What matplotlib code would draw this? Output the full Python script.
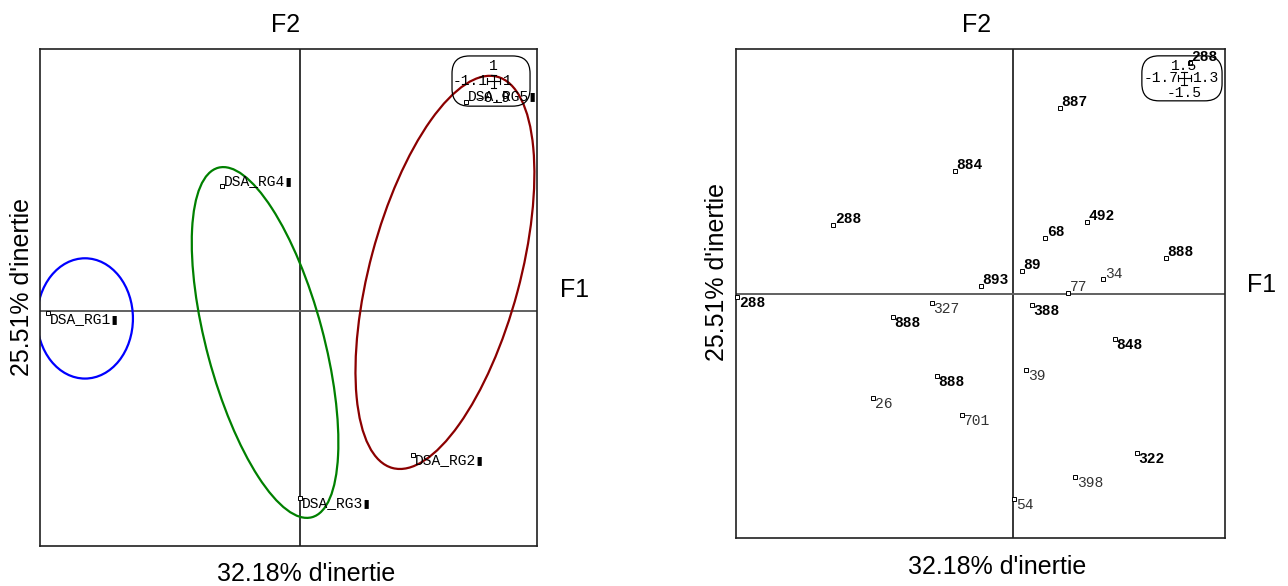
import numpy as np
import matplotlib
matplotlib.use('Agg')
import matplotlib.pyplot as plt
from matplotlib.patches import Ellipse, FancyBboxPatch

W, H = 1288, 586
mono = ['Liberation Mono', 'DejaVu Sans Mono']
sans = ['Liberation Sans', 'DejaVu Sans']

# left panel : group positions (F1, F2)
grp_names = ['DSA_RG1', 'DSA_RG4', 'DSA_RG3', 'DSA_RG2', 'DSA_RG5']
grp_x = [-1.066, -0.331, 0.0, 0.476, 0.700]
grp_y = [-0.011, 0.475, -0.716, -0.551, 0.797]
left_xlim = (-1.1, 1.0)
left_ylim = (-0.9, 1.0)

# ellipses : centre (data), width/height (axes fraction), angle
ell_cx = [-0.910, -0.149, 0.611]
ell_cy = [-0.030, -0.122, 0.146]
ell_w = [0.193, 0.235, 0.302]
ell_h = [0.242, 0.728, 0.815]
ell_ang = [0, 15, -15]
ell_col = ['#0000ff', '#008000', '#8b0000']

# right panel : individuals
ind_labels = ['288', '887', '884', '288', '492', '68', '888', '89', '34', '77',
              '893', '288', '327', '888', '388', '848', '39', '888', '26', '701',
              '322', '398', '54']
ind_x = [1.085, 0.288, -0.356, -1.105, 0.453, 0.196, 0.938, 0.055, 0.552, 0.337,
         -0.197, -1.694, -0.498, -0.737, 0.116, 0.625, 0.079, -0.467, -0.860, -0.313,
         0.760, 0.380, 0.006]
ind_y = [1.414, 1.139, 0.753, 0.422, 0.441, 0.343, 0.220, 0.141, 0.086, 0.006,
         0.049, -0.024, -0.061, -0.147, -0.073, -0.282, -0.471, -0.508, -0.643, -0.747,
         -0.980, -1.127, -1.261]
ind_overlap = [1, 1, 1, 1, 1, 1, 1, 1, 0, 0,
               1, 1, 0, 1, 1, 1, 0, 1, 0, 0,
               1, 0, 0]
right_xlim = (-1.7, 1.3)
right_ylim = (-1.5, 1.5)


def px(x, y):
    return x / W, 1 - y / H


def setup(ax, xlim, ylim):
    ax.set_xlim(*xlim)
    ax.set_ylim(*ylim)
    ax.set_xticks([])
    ax.set_yticks([])
    for s in ax.spines.values():
        s.set_linewidth(1.2)
        s.set_color('#202020')
    ax.axvline(0, color='black', lw=1.1, zorder=1)
    ax.axhline(0, color='#606060', lw=1.4, zorder=1)


def scale_box(ax, x0, x1, y0, y1, top, left, right, bottom):
    box = FancyBboxPatch((x0, y0), x1 - x0, y1 - y0, transform=ax.transAxes,
                         boxstyle='round,pad=0,rounding_size=0.035',
                         fc='none', ec='black', lw=0.9, zorder=4)
    ax.add_patch(box)
    cx = (x0 + x1) / 2 + 0.005
    cy = (y0 + y1) / 2
    kw = dict(transform=ax.transAxes, family=mono, fontsize=10.5, zorder=5)
    ax.text(cx, y1 - 0.006, top, ha='center', va='top', **kw)
    ax.text(cx - 0.012, cy, left, ha='right', va='center', **kw)
    ax.text(cx + 0.018, cy, right, ha='left', va='center', **kw)
    ax.text(cx, y0 + 0.002, bottom, ha='center', va='bottom', **kw)
    # small cross
    d = 0.013
    ax.plot([cx - d, cx + d], [cy, cy], color='black', lw=0.8, transform=ax.transAxes, zorder=5)
    ax.plot([cx, cx], [cy - d, cy + d], color='black', lw=0.8, transform=ax.transAxes, zorder=5)
    for e in (-d, d):
        ax.plot([cx + e, cx + e], [cy - 0.006, cy + 0.006], color='black', lw=0.8,
                transform=ax.transAxes, zorder=5)
        ax.plot([cx - 0.006, cx + 0.006], [cy + e, cy + e], color='black', lw=0.8,
                transform=ax.transAxes, zorder=5)


def put_label(ax, x, y, s, bold=False, color='black'):
    ax.plot(x, y, 's', ms=2.2, mfc='white', mec='black', mew=0.7, zorder=3, clip_on=False)
    if y >= 0:
        ax.annotate(s, (x, y), xytext=(1.2, -1), textcoords='offset points',
                    ha='left', va='bottom', family=mono, fontsize=10.5,
                    fontweight='bold' if bold else 'normal', color=color, zorder=3)
    else:
        ax.annotate(s, (x, y), xytext=(1.2, 1), textcoords='offset points',
                    ha='left', va='top', family=mono, fontsize=10.5,
                    fontweight='bold' if bold else 'normal', color=color, zorder=3)


fig = plt.figure(figsize=(W / 100, H / 100), dpi=100)

# ---------------- left panel
ax1 = fig.add_axes([40 / W, 1 - 546 / H, 497 / W, 497 / H])
setup(ax1, left_xlim, left_ylim)
for cx, cy, w, h, a, c in zip(ell_cx, ell_cy, ell_w, ell_h, ell_ang, ell_col):
    fx, fy = ax1.transLimits.transform((cx, cy))
    ax1.add_patch(Ellipse((fx, fy), w, h, angle=a, transform=ax1.transAxes,
                          fill=False, ec=c, lw=1.6, zorder=2))
for n, x, y in zip(grp_names, grp_x, grp_y):
    put_label(ax1, x, y, n + '\u25ae')
scale_box(ax1, 0.829, 0.986, 0.885, 0.986, '1', '-1.1', '1', '-0.9')

# ---------------- right panel
ax2 = fig.add_axes([736 / W, 1 - 538 / H, 489 / W, 489 / H])
setup(ax2, right_xlim, right_ylim)
for s, x, y, o in zip(ind_labels, ind_x, ind_y, ind_overlap):
    put_label(ax2, x, y, s, bold=bool(o), color='black' if o else '#333333')
scale_box(ax2, 0.830, 0.994, 0.894, 0.986, '1.5', '-1.7', '1.3', '-1.5')

# axis titles
tk = dict(family=sans, fontsize=18, ha='center', va='center')
fig.text(*px(286, 25), 'F2', **tk)
fig.text(*px(575, 290), 'F1', **tk)
fig.text(*px(306, 574), "32.18% d'inertie", **tk)
fig.text(*px(22, 287), "25.51% d'inertie", rotation=90, **tk)

fig.text(*px(977, 25), 'F2', **tk)
fig.text(*px(1262, 285), 'F1', **tk)
fig.text(*px(997, 567), "32.18% d'inertie", **tk)
fig.text(*px(717, 272), "25.51% d'inertie", rotation=90, **tk)

plt.savefig('out.png', dpi=100)
